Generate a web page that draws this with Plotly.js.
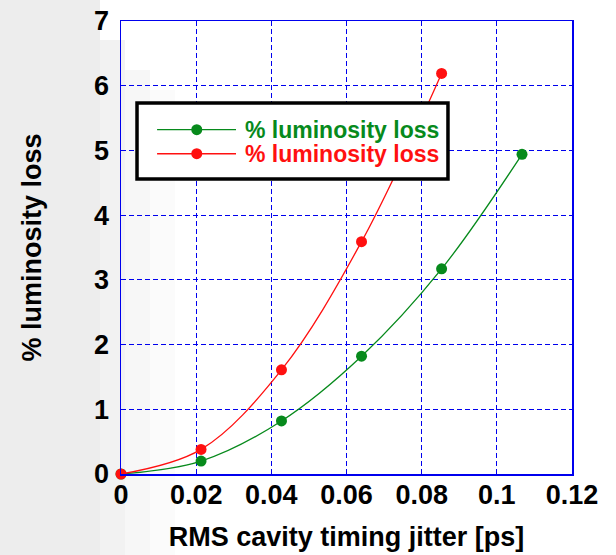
<!DOCTYPE html>
<html>
<head>
<meta charset="utf-8">
<script src="https://cdn.plot.ly/plotly-3.0.1.min.js"></script>
<style>html,body{margin:0;padding:0;background:#fff;}#chart{width:616px;height:555px;}</style>
</head>
<body>
<div id="chart"></div>
<script>
// Data
var jitterGreen = [0, 0.0213, 0.0427, 0.064, 0.0853, 0.1067];
var lossGreen   = [0, 0.20, 0.82, 1.82, 3.17, 4.94];
var jitterRed   = [0, 0.0213, 0.0427, 0.064, 0.0853];
var lossRed     = [0, 0.38, 1.61, 3.59, 6.19];
var seriesNames = ['% luminosity loss', '% luminosity loss'];
var xTicks = [0, 0.02, 0.04, 0.06, 0.08, 0.1, 0.12];
var yTicks = [0, 1, 2, 3, 4, 5, 6, 7];

var GREEN = '#078a1c', RED = '#ff1010', BLUE = '#0000ee';
var FONT = 'Liberation Sans, Arial, sans-serif';

var traces = [
  {x: jitterGreen, y: lossGreen, name: seriesNames[0], mode: 'lines+markers', type: 'scatter',
   line: {color: GREEN, width: 1.3, shape: 'spline', smoothing: 1},
   marker: {color: GREEN, size: 11}, cliponaxis: false},
  {x: jitterRed, y: lossRed, name: seriesNames[1], mode: 'lines+markers', type: 'scatter',
   line: {color: RED, width: 1.3, shape: 'spline', smoothing: 1},
   marker: {color: RED, size: 11}, cliponaxis: false}
];

// pixel -> paper helpers for a faint decorative background
function px(p) { return (p - 121) / 451; }
function py(p) { return (474 - p) / 453; }
var shapes = [];
var fade = [[0, 100, 0.07, 0], [100, 125, 0.05, 40], [125, 150, 0.03, 70], [150, 175, 0.015, 90]];
fade.forEach(function (f) {
  shapes.push({type: 'rect', xref: 'paper', yref: 'paper', layer: 'below', line: {width: 0},
    x0: px(f[0]), x1: px(f[1]), y0: py(555), y1: py(f[3]), fillcolor: 'rgba(0,0,0,' + f[2] + ')'});
});

// legend geometry (paper coords)
var lgX0 = 0.0355, lgX1 = 0.725, lgY0 = 0.651, lgY1 = 0.819;
var rowY = [0.760, 0.707];
var symX0 = 0.080, symX1 = 0.255, symXm = 0.168, txtX = 0.270;
var colors = [GREEN, RED];

shapes.push({type: 'rect', xref: 'paper', yref: 'paper', x0: lgX0, x1: lgX1, y0: lgY0, y1: lgY1,
   line: {color: '#000', width: 3.5}, fillcolor: '#fff', layer: 'above'});
var annotations = [];
for (var i = 0; i < 2; i++) {
  shapes.push({type: 'line', xref: 'paper', yref: 'paper', x0: symX0, x1: symX1, y0: rowY[i], y1: rowY[i],
    line: {color: colors[i], width: 1.3}, layer: 'above'});
  shapes.push({type: 'circle', xref: 'paper', yref: 'paper', xsizemode: 'pixel', ysizemode: 'pixel',
    xanchor: symXm, yanchor: rowY[i], x0: -5.5, x1: 5.5, y0: -5.5, y1: 5.5,
    fillcolor: colors[i], line: {color: colors[i], width: 0}, layer: 'above'});
  annotations.push({xref: 'paper', yref: 'paper', x: txtX, y: rowY[i], xanchor: 'left', yanchor: 'middle',
    text: '<b>' + seriesNames[i] + '</b>', showarrow: false,
    font: {family: FONT, size: 23, color: colors[i]}});
}

var axisCommon = {
  showline: true, linecolor: BLUE, linewidth: 1.5, mirror: true,
  showgrid: true, gridcolor: BLUE, gridwidth: 1, griddash: '5px,3px',
  zeroline: false, ticks: 'outside', tickcolor: 'rgba(0,0,0,0)',
  tickfont: {family: FONT, size: 27, color: '#000', weight: 'bold'}
};

var layout = {
  width: 616, height: 555,
  margin: {l: 121, r: 44, t: 21, b: 81},
  paper_bgcolor: '#fff', plot_bgcolor: 'rgba(0,0,0,0)',
  showlegend: false,
  xaxis: Object.assign({}, axisCommon, {
    range: [0, 0.12], tickvals: xTicks, ticktext: xTicks.map(String), ticklen: 0, ticklabelstandoff: -4,
    title: {text: '<b>RMS cavity timing jitter [ps]</b>', font: {family: FONT, size: 27, color: '#000'}, standoff: 18}
  }),
  yaxis: Object.assign({}, axisCommon, {
    range: [0, 7], tickvals: yTicks, ticktext: yTicks.map(String), ticklen: 5,
    title: {text: '<b>% luminosity loss</b>', font: {family: FONT, size: 27, color: '#000'}, standoff: 44}
  }),
  shapes: shapes,
  annotations: annotations
};

Plotly.newPlot('chart', traces, layout, {displayModeBar: false, staticPlot: true});
</script>
</body>
</html>
